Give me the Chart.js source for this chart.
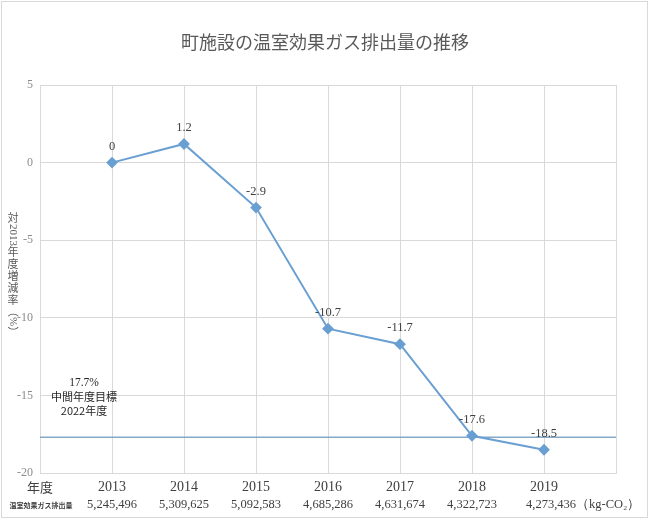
<!DOCTYPE html>
<html>
<head>
<meta charset="utf-8">
<script src="https://cdn.jsdelivr.net/npm/chart.js@4"></script>
<style>
  body { margin: 0; background: #fff; }
  #wrap { width: 650px; height: 520px; }
</style>
</head>
<body>
<div id="wrap"><canvas id="chart" width="650" height="520"></canvas></div>
<script>
// data
const years = [2013, 2014, 2015, 2016, 2017, 2018, 2019];
const changeRate = [0, 1.2, -2.9, -10.7, -11.7, -17.6, -18.5];
const emissions = ["5,245,496", "5,309,625", "5,092,583", "4,685,286", "4,631,674", "4,322,723", "4,273,436"];
const targetRate = -17.7;
const yTicks = [5, 0, -5, -10, -15, -20];

const serif = "'Liberation Serif', 'DejaVu Serif', serif";
const jp = "'Noto Sans CJK JP', sans-serif";

// labels, title, y title and the emission row
const textPlugin = {
  id: "texts",
  afterDraw(chart) {
    const ctx = chart.ctx;
    const xs = chart.scales.x;
    const meta = chart.getDatasetMeta(0);
    ctx.save();

    // outer frame
    ctx.strokeStyle = "#d9d9d9";
    ctx.lineWidth = 1;
    ctx.strokeRect(1.5, 1.5, 646, 516);

    // title
    ctx.fillStyle = "#595959";
    ctx.font = "18px " + jp;
    ctx.textAlign = "center";
    ctx.textBaseline = "middle";
    ctx.fillText("町施設の温室効果ガス排出量の推移", 325, 42);

    // data labels
    ctx.fillStyle = "#404040";
    ctx.font = "12.5px " + serif;
    meta.data.forEach(function(pt, i) {
      ctx.fillText(String(changeRate[i]), pt.x, pt.y - 16);
    });

    // target note
    ctx.fillStyle = "#262626";
    ctx.font = "11.5px " + serif;
    ctx.fillText("17.7%", 84, 383);
    ctx.font = "11px " + jp;
    ctx.fillText("中間年度目標", 84, 397);
    ctx.fillText("2022年度", 84, 411);

    // x header labels
    const rowY = 505;
    ctx.fillStyle = "#404040";
    ctx.font = "13px " + jp;
    ctx.fillText("年度", xs.getPixelForValue(2012), 487);
    ctx.font = "bold 7px " + jp;
    ctx.fillText("温室効果ガス排出量", 41, rowY);
    ctx.font = "12.5px " + serif;
    emissions.forEach(function(v, i) {
      if (i === emissions.length - 1) {
        ctx.textAlign = "left";
        const x0 = xs.getPixelForValue(years[i]) - 18;
        ctx.fillText(v + "（kg-CO\u2082）", x0, rowY);
        ctx.textAlign = "center";
      } else {
        ctx.fillText(v, xs.getPixelForValue(years[i]), rowY);
      }
    });

    // vertical y title
    ctx.fillStyle = "#595959";
    const parts = [["対", false], ["2013", true], ["年", false], ["度", false], ["増", false],
      ["減", false], ["率", false], ["（", true], ["%", true], ["）", true]];
    let y = 212;
    const x = 13;
    parts.forEach(function(p) {
      if (p[1]) {
        ctx.font = (p[0] === "2013" || p[0] === "%" ? "11px " + serif : "11px " + jp);
        const w = ctx.measureText(p[0]).width;
        ctx.save();
        ctx.translate(x, y + w / 2);
        ctx.rotate(Math.PI / 2);
        ctx.fillText(p[0], 0, 0);
        ctx.restore();
        y += w;
      } else {
        ctx.font = "11px " + jp;
        ctx.fillText(p[0], x, y + 6);
        y += 12;
      }
    });
    ctx.restore();
  }
};

const ctx = document.getElementById("chart").getContext("2d");
new Chart(ctx, {
  type: "line",
  data: {
    datasets: [{
      data: years.map(function(yr, i) { return { x: yr, y: changeRate[i] }; }),
      borderColor: "#6a9fd2",
      backgroundColor: "#6a9fd2",
      borderWidth: 2,
      pointStyle: "rectRot",
      pointRadius: 4.5,
      tension: 0
    }, {
      data: [{ x: 2012, y: targetRate }, { x: 2020, y: targetRate }],
      borderColor: "#84a9c9",
      borderWidth: 1.5,
      pointRadius: 0
    }]
  },
  options: {
    responsive: false,
    animation: false,
    layout: { padding: { left: 0, right: 34, top: 85, bottom: 0 } },
    plugins: {
      legend: { display: false },
      tooltip: { enabled: false }
    },
    scales: {
      x: {
        type: "linear",
        min: 2012,
        max: 2020,
        ticks: {
          stepSize: 1,
          color: "#404040",
          font: { family: serif, size: 14 },
          padding: 6,
          callback: function(v) { return years.indexOf(v) >= 0 ? String(v) : ""; }
        },
        grid: { color: "#d9d9d9", drawTicks: false },
        border: { color: "#d9d9d9" },
        afterFit: function(s) { s.height = 47; }
      },
      y: {
        min: yTicks[yTicks.length - 1],
        max: yTicks[0],
        ticks: {
          stepSize: 5,
          color: "#8c8c8c",
          font: { family: serif, size: 12 },
          padding: 7
        },
        grid: { color: "#d9d9d9", drawTicks: false },
        border: { color: "#d9d9d9" },
        afterFit: function(s) { s.width = 40; }
      }
    }
  },
  plugins: [textPlugin]
});
</script>
</body>
</html>
